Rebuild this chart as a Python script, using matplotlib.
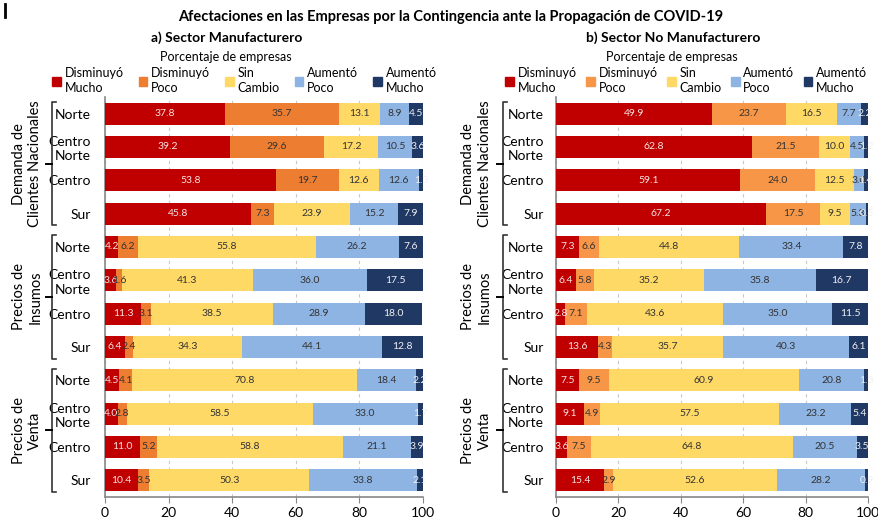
import numpy as np
import matplotlib.pyplot as plt
from matplotlib.patches import Patch

plt.rcParams['font.family'] = ['Lato', 'DejaVu Sans']

# ---- data ----
regiones = ['Norte', 'Centro\nNorte', 'Centro', 'Sur'] * 3
grupos = ['Demanda de\nClientes Nacionales', 'Precios de\nInsumos', 'Precios de\nVenta']
series = ['Disminuyó\nMucho', 'Disminuyó\nPoco', 'Sin\nCambio', 'Aumentó\nPoco', 'Aumentó\nMucho']

# a) Sector Manufacturero
man_dism_mucho = [37.8, 39.2, 53.8, 45.8, 4.2, 3.6, 11.3, 6.4, 4.5, 4.0, 11.0, 10.4]
man_dism_poco = [35.7, 29.6, 19.7, 7.3, 6.2, 1.6, 3.1, 2.4, 4.1, 2.8, 5.2, 3.5]
man_sin_cambio = [13.1, 17.2, 12.6, 23.9, 55.8, 41.3, 38.5, 34.3, 70.8, 58.5, 58.8, 50.3]
man_aum_poco = [8.9, 10.5, 12.6, 15.2, 26.2, 36.0, 28.9, 44.1, 18.4, 33.0, 21.1, 33.8]
man_aum_mucho = [4.5, 3.6, 1.3, 7.9, 7.6, 17.5, 18.0, 12.8, 2.2, 1.7, 3.9, 2.1]

# b) Sector No Manufacturero
nom_dism_mucho = [49.9, 62.8, 59.1, 67.2, 7.3, 6.4, 2.8, 13.6, 7.5, 9.1, 3.6, 15.4]
nom_dism_poco = [23.7, 21.5, 24.0, 17.5, 6.6, 5.8, 7.1, 4.3, 9.5, 4.9, 7.5, 2.9]
nom_sin_cambio = [16.5, 10.0, 12.5, 9.5, 44.8, 35.2, 43.6, 35.7, 60.9, 57.5, 64.8, 52.6]
nom_aum_poco = [7.7, 4.5, 3.0, 5.3, 33.4, 35.8, 35.0, 40.3, 20.8, 23.2, 20.5, 28.2]
nom_aum_mucho = [2.2, 1.2, 1.4, 0.5, 7.8, 16.7, 11.5, 6.1, 1.3, 5.4, 3.5, 0.9]

W, H = 879, 519
fig = plt.figure(figsize=(W / 100, H / 100), dpi=100)


def px_axes(x0, x1, y0, y1):
    return fig.add_axes([x0 / W, 1 - y1 / H, (x1 - x0) / W, (y1 - y0) / H])


def draw_panel(ax, data, colors, bracket_x, group_x, pad):
    y = np.arange(len(regiones))
    left = np.zeros(len(regiones))
    txt_colors = ['#F6E3E3', '#333333', '#333333', '#333333', '#F0F0F0']
    for vals, c, tc in zip(data, colors, txt_colors):
        vals = np.array(vals)
        ax.barh(y, vals, left=left, height=0.66, color=c, zorder=3)
        for yi, l, v in zip(y, left, vals):
            ax.text(l + v / 2, yi, f'{v:.1f}', ha='center', va='center',
                    fontsize=7.5, color=tc, zorder=4)
        left += vals
    ax.set_xlim(0, 100)
    ax.set_ylim(11.5, -0.5)
    ax.set_xticks([0, 20, 40, 60, 80, 100])
    ax.set_yticks(y)
    ax.set_yticklabels(regiones, fontsize=10, linespacing=1.25)
    ax.tick_params(axis='y', length=0, pad=pad)
    ax.tick_params(axis='x', labelsize=10, color='#888888', length=4)
    ax.xaxis.grid(True, linestyle=(0, (3, 3)), color='#C8C8C8', lw=0.8, zorder=0)
    for s in ['top', 'right']:
        ax.spines[s].set_visible(False)
    for s in ['left', 'bottom']:
        ax.spines[s].set_color('#888888')
        ax.spines[s].set_linewidth(1.2)
    tr = ax.get_yaxis_transform()
    for g, name in enumerate(grupos):
        top, bot = g * 4 - 0.35, g * 4 + 3.35
        mid = (top + bot) / 2
        ax.plot([bracket_x + 0.012, bracket_x, bracket_x, bracket_x + 0.012],
                [top, top, bot, bot], color='#333333', lw=1.2,
                transform=tr, clip_on=False)
        ax.plot([bracket_x, bracket_x - 0.02], [mid, mid], color='black',
                lw=1.4, transform=tr, clip_on=False)
        ax.text(group_x, mid, name, rotation=90, ha='center', va='center',
                fontsize=10.5, linespacing=1.2, transform=tr)


colors_man = ['#C00000', '#ED7D31', '#FFD966', '#8EB4E3', '#203864']
colors_nom = ['#C00000', '#F79646', '#FFD966', '#8EB4E3', '#203864']

ax1 = px_axes(105, 423, 97, 497)
draw_panel(ax1, [man_dism_mucho, man_dism_poco, man_sin_cambio, man_aum_poco, man_aum_mucho],
           colors_man, -0.167, -0.245, 10)
ax2 = px_axes(556, 868, 97, 497)
draw_panel(ax2, [nom_dism_mucho, nom_dism_poco, nom_sin_cambio, nom_aum_poco, nom_aum_mucho],
           colors_nom, -0.169, -0.255, 9)

fig.text(451 / W, 1 - 17 / H,
         'Afectaciones en las Empresas por la Contingencia ante la Propagación de COVID-19',
         ha='center', va='center', fontsize=10.5, fontweight='bold')
fig.text(227 / W, 1 - 38 / H, 'a) Sector Manufacturero', ha='center', va='center',
         fontsize=10, fontweight='bold')
fig.text(673 / W, 1 - 38 / H, 'b) Sector No Manufacturero', ha='center', va='center',
         fontsize=10, fontweight='bold')
fig.text(226 / W, 1 - 57 / H, 'Porcentaje de empresas', ha='center', va='center', fontsize=9)
fig.text(672 / W, 1 - 57 / H, 'Porcentaje de empresas', ha='center', va='center', fontsize=9)

for colors, x0, cs in [(colors_man, 52, 1.2), (colors_nom, 505, 0.75)]:
    handles = [Patch(color=c, label=s) for c, s in zip(colors, series)]
    leg = fig.legend(handles=handles, ncol=5, loc='upper left',
                     bbox_to_anchor=(x0 / W, 1 - 67 / H), frameon=False, fontsize=9,
                     handlelength=0.7, handleheight=0.7, handletextpad=0.3,
                     columnspacing=cs, borderaxespad=0, borderpad=0)
    for t in leg.get_texts():
        t.set_linespacing(1.3)

fig.add_artist(plt.Line2D([5 / W, 5 / W], [1 - 4 / H, 1 - 17 / H], color='black', lw=2))

fig.savefig('out.png', dpi=100)
